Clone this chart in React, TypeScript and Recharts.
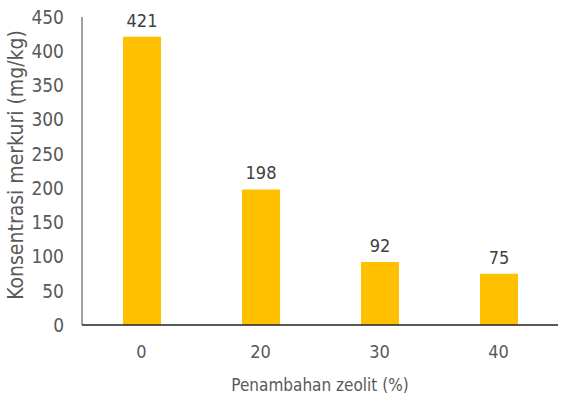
import { BarChart, Bar, XAxis, YAxis, LabelList } from "recharts";

const zeolit = ["0", "20", "30", "40"];
const merkuri = [421, 198, 92, 75];
const yTicks = [0, 50, 100, 150, 200, 250, 300, 350, 400, 450];

const data = zeolit.map((z, i) => ({ name: z, value: merkuri[i] }));

const font = "'DejaVu Sans Condensed', 'Liberation Sans Narrow', 'Arial Narrow', sans-serif";

export default function App() {
  return (
    <div style={{ position: "absolute", left: 0, top: 0, background: "#fff" }}>
      <BarChart
        width={563}
        height={403}
        data={data}
        margin={{ top: 17, right: 5, left: 0, bottom: 16 }}
      >
        <XAxis
          dataKey="name"
          tickLine={false}
          axisLine={{ stroke: "#222", strokeWidth: 1.5 }}
          tick={{ fill: "#595959", fontSize: 18, fontFamily: font }}
          tickMargin={14}
          height={62}
          label={{
            value: "Penambahan zeolit (%)",
            position: "insideBottom",
            offset: -4,
            fill: "#595959",
            fontSize: 17,
            fontFamily: font,
          }}
        />
        <YAxis
          domain={[0, 450]}
          ticks={yTicks}
          interval={0}
          tickLine={false}
          axisLine={{ stroke: "#444", strokeWidth: 1 }}
          tick={{ fill: "#595959", fontSize: 19, fontFamily: font }}
          tickMargin={12}
          width={82}
          label={{
            value: "Konsentrasi merkuri (mg/kg)",
            angle: -90,
            position: "insideLeft",
            offset: 16,
            dy: -6,
            style: { textAnchor: "middle" },
            fill: "#595959",
            fontSize: 21,
            fontFamily: font,
          }}
        />
        <Bar dataKey="value" fill="#FFC000" barSize={38} isAnimationActive={false}>
          <LabelList
            dataKey="value"
            position="top"
            offset={10}
            fill="#404040"
            fontSize={18}
            fontFamily={font}
          />
        </Bar>
      </BarChart>
    </div>
  );
}
